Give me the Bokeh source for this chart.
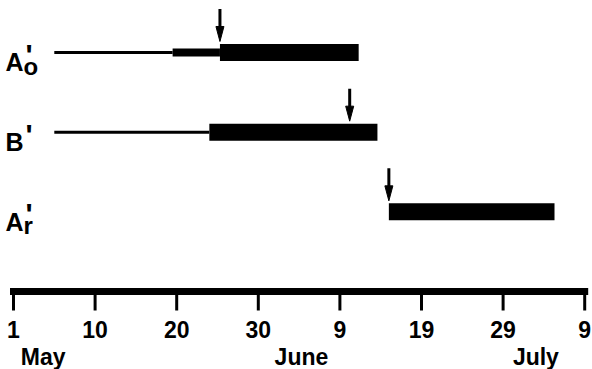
from bokeh.plotting import figure
from bokeh.models import Range1d
from bokeh.core.properties import value
from bokeh.embed import file_html
from bokeh.resources import INLINE

# ---- data (days counted from the "1" (May 1) tick = 0) ----
row_main = ["A", "B", "A"]
row_prime = ["'", "'", "'"]
row_sub = ["o", "", "r"]

thin_start = [5.0, 5.0]          # rows A'o, B'
thin_end = [19.5, 24.0]
mid_start = [19.5]               # row A'o
mid_end = [25.3]
thick_start = [25.3, 24.0, 46.0]  # rows A'o, B', A'r
thick_end = [42.3, 44.6, 66.3]
arrow_day = [25.3, 41.2, 46.0]

tick_days = [0, 10, 20, 30, 40, 50, 60, 70]
tick_labels = ["1", "10", "20", "30", "9", "19", "29", "9"]
month_labels = ["May", "June", "July"]
month_days = [0.9, 32.0, 61.2]

# ---- layout helpers ----
W, H = 592, 369
PX_PER_DAY = 8.16
DAY0_PX = 13.0
PX_PER_ROW = 79.67
AXIS_PX = 291.0

n = len(row_main)
row_y = [n - i for i in range(n)]          # 3, 2, 1 ; axis at 0

x0 = -DAY0_PX / PX_PER_DAY
x1 = (W - DAY0_PX) / PX_PER_DAY
y1 = AXIS_PX / PX_PER_ROW
y0 = -(H - AXIS_PX) / PX_PER_ROW

p = figure(width=W, height=H, x_range=Range1d(x0, x1), y_range=Range1d(y0, y1),
           output_backend="svg", toolbar_location=None, min_border=0,
           x_axis_type=None, y_axis_type=None, outline_line_color=None,
           background_fill_color="white", border_fill_color="white")
p.grid.visible = False

u = 1.0 / PX_PER_ROW   # one pixel in y data units
FONT = value("Liberation Sans")

# thin lines
p.segment(x0=thin_start, x1=thin_end, y0=row_y[:2], y1=row_y[:2],
          line_color="black", line_width=3)
# medium bar
p.segment(x0=mid_start, x1=mid_end, y0=row_y[:1], y1=row_y[:1],
          line_color="black", line_width=8)
# thick bars
p.segment(x0=thick_start, x1=thick_end, y0=row_y, y1=row_y,
          line_color="black", line_width=17)

# arrows
tip = [y + 11 * u for y in row_y]
top = [y + 43.5 * u for y in row_y]
head_base = [t + 15 * u for t in tip]
half_w = 4.0 / PX_PER_DAY
p.segment(x0=arrow_day, x1=arrow_day, y0=top, y1=[b - 2 * u for b in head_base],
          line_color="black", line_width=3)
p.patches(xs=[[a - half_w, a + half_w, a] for a in arrow_day],
          ys=[[b, b, t] for b, t in zip(head_base, tip)],
          fill_color="black", line_color="black", line_width=1)

# row labels
lx = [x0] * n
p.text(x=lx, y=row_y, text=row_main, x_offset=5, y_offset=10,
       text_font=FONT, text_font_style="bold", text_font_size="25px",
       text_baseline="alphabetic", text_align="left", text_color="black")
p.text(x=lx, y=row_y, text=row_prime, x_offset=25, y_offset=2,
       text_font=FONT, text_font_style="bold", text_font_size="30px",
       text_baseline="alphabetic", text_align="left", text_color="black")
sub_idx = [i for i, s in enumerate(row_sub) if s]
p.text(x=[x0 for i in sub_idx], y=[row_y[i] for i in sub_idx],
       text=[row_sub[i] for i in sub_idx], x_offset=23, y_offset=14,
       text_font=FONT, text_font_style="bold", text_font_size="24px",
       text_baseline="alphabetic", text_align="left", text_color="black")

# time axis
p.segment(x0=[tick_days[0]], x1=[tick_days[-1]], y0=[0], y1=[0],
          line_color="black", line_width=7, line_cap="square")
p.segment(x0=tick_days, x1=tick_days, y0=[0] * len(tick_days),
          y1=[-19 * u] * len(tick_days), line_color="black", line_width=3)
p.text(x=tick_days, y=[0] * len(tick_days), text=tick_labels, y_offset=38,
       text_font=FONT, text_font_style="bold", text_font_size="23px",
       text_baseline="alphabetic", text_align="center", text_color="black")
p.text(x=month_days, y=[0] * len(month_days), text=month_labels, y_offset=65,
       text_font=FONT, text_font_style="bold", text_font_size="23px",
       text_baseline="alphabetic", text_align="left", text_color="black")

open("out.html", "w").write(file_html(p, INLINE))
